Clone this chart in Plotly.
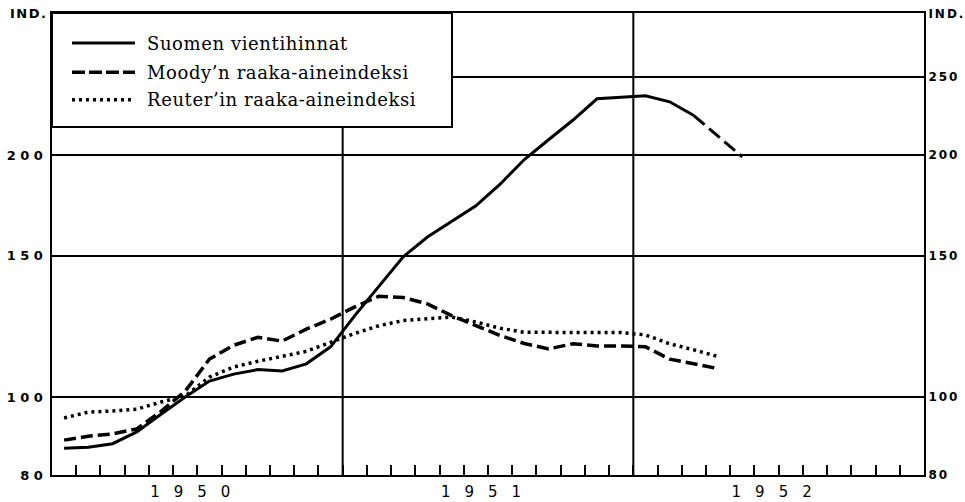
import math
import plotly.graph_objects as go

# ---- data (monthly index values) ----
months = [f"{y}-{m:02d}" for y in (1950, 1951, 1952) for m in range(1, 13)]
years = ["1950", "1951", "1952"]
series_names = ["Suomen vientihinnat", "Moody\u2019n raaka-aineindeksi", "Reuter\u2019in raaka-aineindeksi"]

# Suomen vientihinnat, Jan 1950 .. Mar 1952 (solid)
finland = [86.4, 86.6, 87.5, 90.5, 95.2, 100.0, 104.7, 106.8, 108.2, 107.8, 110.0, 115.5,
           126.3, 137.5, 149.5, 158.2, 165.5, 173.0, 184.0, 197.5, 209.0, 221.0, 235.0, 236.0,
           237.0, 233.0, 224.0]
# estimated continuation, Mar 1952 .. May 1952 (dashed)
finland_est = [224.0, 211.0, 199.0]

# Moody'n raaka-aineindeksi, Jan 1950 .. Apr 1952
moody = [88.4, 89.4, 90.0, 91.3, 96.0, 101.7, 111.5, 116.0, 118.7, 117.4, 121.5, 125.0,
         129.5, 133.5, 133.0, 130.6, 126.3, 122.8, 119.3, 116.6, 114.8, 116.5, 115.8, 115.8,
         115.5, 111.5, 110.0, 108.5]
# Reuter'in raaka-aineindeksi, Jan 1950 .. Apr 1952
reuter = [94.2, 95.8, 96.1, 96.6, 98.6, 100.3, 105.9, 109.0, 110.8, 112.4, 114.0, 117.0,
          120.0, 122.7, 124.5, 125.2, 125.8, 124.0, 121.8, 120.4, 120.3, 120.3, 120.3, 120.3,
          119.5, 116.5, 114.5, 112.3]

left_ticks = [80, 100, 150, 200, 300]
left_text = ["80", "100", "150", "200", "IND."]
right_ticks = [80, 100, 150, 200, 250, 300]
right_text = ["80", "100", "150", "200", "250", "IND."]

# ---- figure ----
xs = [i + 0.5 for i in range(len(months))]
est_start = len(finland) - 1

fig = go.Figure()
fig.add_trace(go.Scatter(x=xs[:len(finland)], y=finland, mode="lines", name=series_names[0],
                         line=dict(color="black", width=3), showlegend=False))
fig.add_trace(go.Scatter(x=xs[est_start:est_start + len(finland_est)], y=finland_est, mode="lines",
                         name=series_names[0] + " (arvio)",
                         line=dict(color="black", width=3, dash="14px,6px"), showlegend=False))
fig.add_trace(go.Scatter(x=xs[:len(moody)], y=moody, mode="lines", name=series_names[1],
                         line=dict(color="black", width=3.5, dash="12px,5px"), showlegend=False))
fig.add_trace(go.Scatter(x=xs[:len(reuter)], y=reuter, mode="lines", name=series_names[2],
                         line=dict(color="black", width=3.5, dash="3px,4px"), showlegend=False))
# invisible trace on right axis to activate it
fig.add_trace(go.Scatter(x=[xs[0]], y=[reuter[0]], yaxis="y2", mode="lines",
                         line=dict(width=0), hoverinfo="skip", showlegend=False))

ls = lambda t, s: f'<span style="letter-spacing:{s}px">{t}</span>'

yr = [math.log10(80), math.log10(300.5)]
fig.update_layout(
    width=965, height=502,
    margin=dict(l=52, r=41, t=13, b=27, autoexpand=False),
    paper_bgcolor="white", plot_bgcolor="white",
    xaxis=dict(range=[0, len(months)], showgrid=False, zeroline=False, automargin=False,
               showline=True, linecolor="black", linewidth=2, mirror=True,
               tickmode="array", tickvals=[6 + 12 * k for k in range(len(years))],
               ticktext=[ls(y, 14) for y in years],
               ticks="inside", ticklen=10, tickwidth=1.5, tickcolor="black",
               tickfont=dict(family="DejaVu Sans", size=15, color="black"),
               ticklabelstandoff=2,
               minor=dict(dtick=1, tick0=0, ticks="inside", ticklen=10,
                          tickwidth=1.5, tickcolor="black", showgrid=False)),
    yaxis=dict(type="log", range=yr, showgrid=False, zeroline=False, automargin=False,
               showline=True, linecolor="black", linewidth=2,
               tickmode="array", tickvals=left_ticks,
               ticktext=[ls(t, 1.5 if t == "IND." else 4.5) for t in left_text],
               ticks="", tickfont=dict(family="DejaVu Sans", size=13, color="black",
                                       weight="bold")),
    yaxis2=dict(type="log", range=yr, overlaying="y", side="right", automargin=False,
                showgrid=True, gridcolor="black", gridwidth=1.5, zeroline=False,
                showline=True, linecolor="black", linewidth=2,
                tickmode="array", tickvals=right_ticks,
                ticktext=[ls(t, 2) for t in right_text],
                ticks="", tickfont=dict(family="DejaVu Sans", size=12, color="black",
                                        weight="bold"),
                layer="below traces"),
)

# year boundaries
for k in range(1, len(years)):
    fig.add_shape(type="line", xref="x", yref="paper", x0=12 * k, x1=12 * k, y0=0, y1=1,
                  line=dict(color="black", width=2), layer="below")

# manual legend box
fig.add_shape(type="rect", xref="paper", yref="paper", x0=0, x1=0.4587, y0=0.753, y1=1,
              fillcolor="white", line=dict(color="black", width=2), layer="above")
leg_styles = [dict(dash="solid", width=3), dict(dash="13px,4px", width=3.5),
              dict(dash="3px,4px", width=3.5)]
leg_y = [0.935, 0.872, 0.812]
for name, st, yy in zip(series_names, leg_styles, leg_y):
    fig.add_shape(type="line", xref="paper", yref="paper", x0=0.0229, x1=0.0952, y0=yy, y1=yy,
                  line=dict(color="black", **st), layer="above")
    fig.add_annotation(xref="paper", yref="paper", x=0.1067, y=yy, text=ls(name, 0.6),
                       showarrow=False, xanchor="left", yanchor="middle",
                       font=dict(family="DejaVu Serif", size=18, color="black"))

fig.write_html("out.html", config={"displayModeBar": False},
               post_script="document.body.style.margin='0';document.body.style.overflow='hidden';")
